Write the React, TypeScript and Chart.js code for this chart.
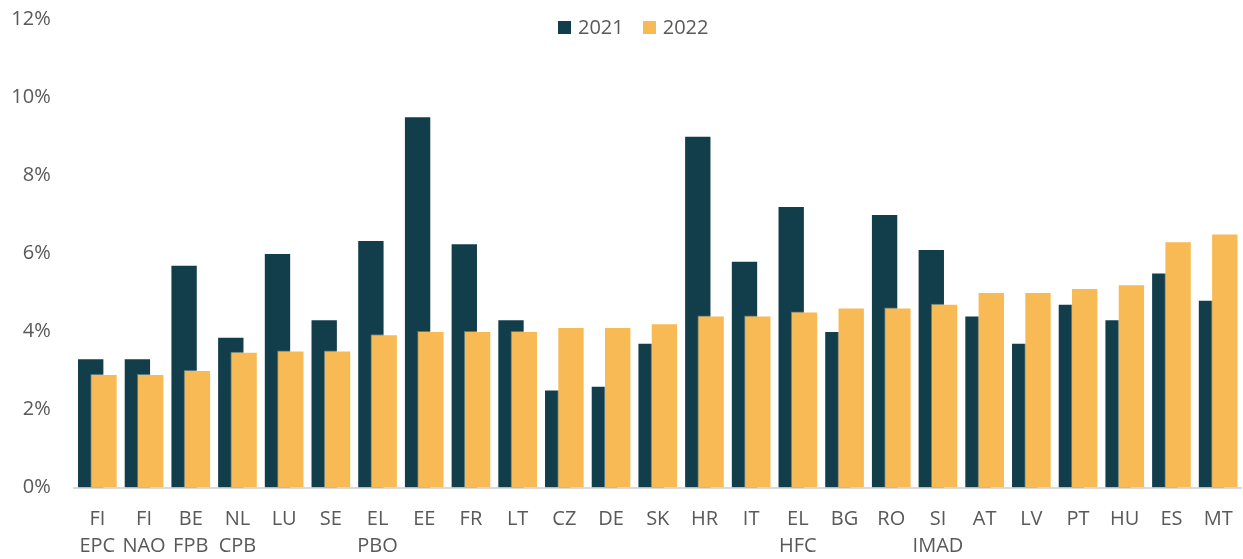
import { useEffect, useRef } from "react";
import { Chart, registerables } from "chart.js";

Chart.register(...registerables);

const categories: string[][] = [
  ["FI", "EPC"], ["FI", "NAO"], ["BE", "FPB"], ["NL", "CPB"], ["LU"], ["SE"], ["EL", "PBO"],
  ["EE"], ["FR"], ["LT"], ["CZ"], ["DE"], ["SK"], ["HR"], ["IT"], ["EL", "HFC"], ["BG"],
  ["RO"], ["SI", "IMAD"], ["AT"], ["LV"], ["PT"], ["HU"], ["ES"], ["MT"],
];
const values2021 = [3.3, 3.3, 5.7, 3.85, 6.0, 4.3, 6.33, 9.5, 6.25, 4.3, 2.5, 2.6, 3.7, 9.0, 5.8, 7.2, 4.0, 7.0, 6.1, 4.4, 3.7, 4.7, 4.3, 5.5, 4.8];
const values2022 = [2.9, 2.9, 3.0, 3.47, 3.5, 3.5, 3.92, 4.0, 4.0, 4.0, 4.1, 4.1, 4.2, 4.4, 4.4, 4.5, 4.6, 4.6, 4.7, 5.0, 5.0, 5.1, 5.2, 6.3, 6.5];
const seriesNames = ["2021", "2022"];
const seriesColors = ["#123E4B", "#F8BA55"];
const yTicks = [0, 2, 4, 6, 8, 10, 12];

// horizontal shift of each series within its category (in category units)
const seriesShift = [-0.1425, 0.1425];

const FONT = "'Open Sans', 'Noto Sans', sans-serif";
const TEXT = "#595959";

export default function App() {
  const canvasRef = useRef<HTMLCanvasElement | null>(null);

  useEffect(() => {
    if (!canvasRef.current) return;
    const seriesValues = [values2021, values2022];
    const chart = new Chart(canvasRef.current, {
      type: "bar",
      data: {
        datasets: seriesNames.map((name, s) => ({
          label: name,
          data: seriesValues[s].map((v, i) => ({ x: i + seriesShift[s], y: v })),
          backgroundColor: seriesColors[s],
          borderColor: "rgba(255,255,255,0.3)",
          borderWidth: 1,
          barThickness: 26.7,
          grouped: false,
          order: s === 0 ? 1 : 0,
        })),
      },
      options: {
        animation: false,
        responsive: true,
        maintainAspectRatio: false,
        parsing: false as any,
        layout: { padding: { left: 0, right: 1.5, top: 19, bottom: 0 } },
        plugins: {
          legend: { display: false },
          tooltip: { enabled: false },
        },
        scales: {
          x: {
            type: "linear",
            min: -0.5,
            max: categories.length - 0.5,
            offset: false,
            grid: { display: false, drawTicks: false },
            border: { display: true, color: "#D9D9D9", width: 2 },
            afterBuildTicks: (scale: any) => {
              scale.ticks = categories.map((_, i) => ({ value: i }));
            },
            afterFit: (scale: any) => {
              scale.height = 71.5;
              scale.paddingLeft = 0;
              scale.paddingRight = 0;
            },
            ticks: {
              color: TEXT,
              font: { family: FONT, size: 20, lineHeight: 1.35 },
              padding: 18,
              maxRotation: 0,
              minRotation: 0,
              autoSkip: false,
              callback: (v: any) => categories[Math.round(v)] ?? "",
            },
          },
          y: {
            min: 0,
            max: 12,
            grid: { display: false, drawTicks: false },
            border: { display: false },
            afterBuildTicks: (scale: any) => {
              scale.ticks = yTicks.map((v) => ({ value: v }));
            },
            afterFit: (scale: any) => {
              scale.width = 74;
              scale.paddingTop = 0;
              scale.paddingBottom = 0;
            },
            ticks: {
              color: TEXT,
              font: { family: FONT, size: 20, lineHeight: 1.35 },
              padding: 23.3,
              callback: (v: any) => `${v}%`,
            },
          },
        },
      },
    });
    return () => chart.destroy();
  }, []);

  return (
    <div style={{ position: "fixed", left: 0, top: 0, width: 1243, height: 559, background: "#fff" }}>
      <canvas ref={canvasRef} />
      <div
        style={{
          position: "absolute",
          left: 558,
          top: 17,
          display: "flex",
          alignItems: "center",
          fontFamily: FONT,
          fontSize: 20,
          lineHeight: "20px",
          color: TEXT,
        }}
      >
        {seriesNames.map((name, i) => (
          <div key={name} style={{ display: "flex", alignItems: "center", marginRight: i === 0 ? 19 : 0 }}>
            <span style={{ display: "inline-block", width: 13, height: 13, background: seriesColors[i], marginRight: 7 }} />
            <span>{name}</span>
          </div>
        ))}
      </div>
    </div>
  );
}
